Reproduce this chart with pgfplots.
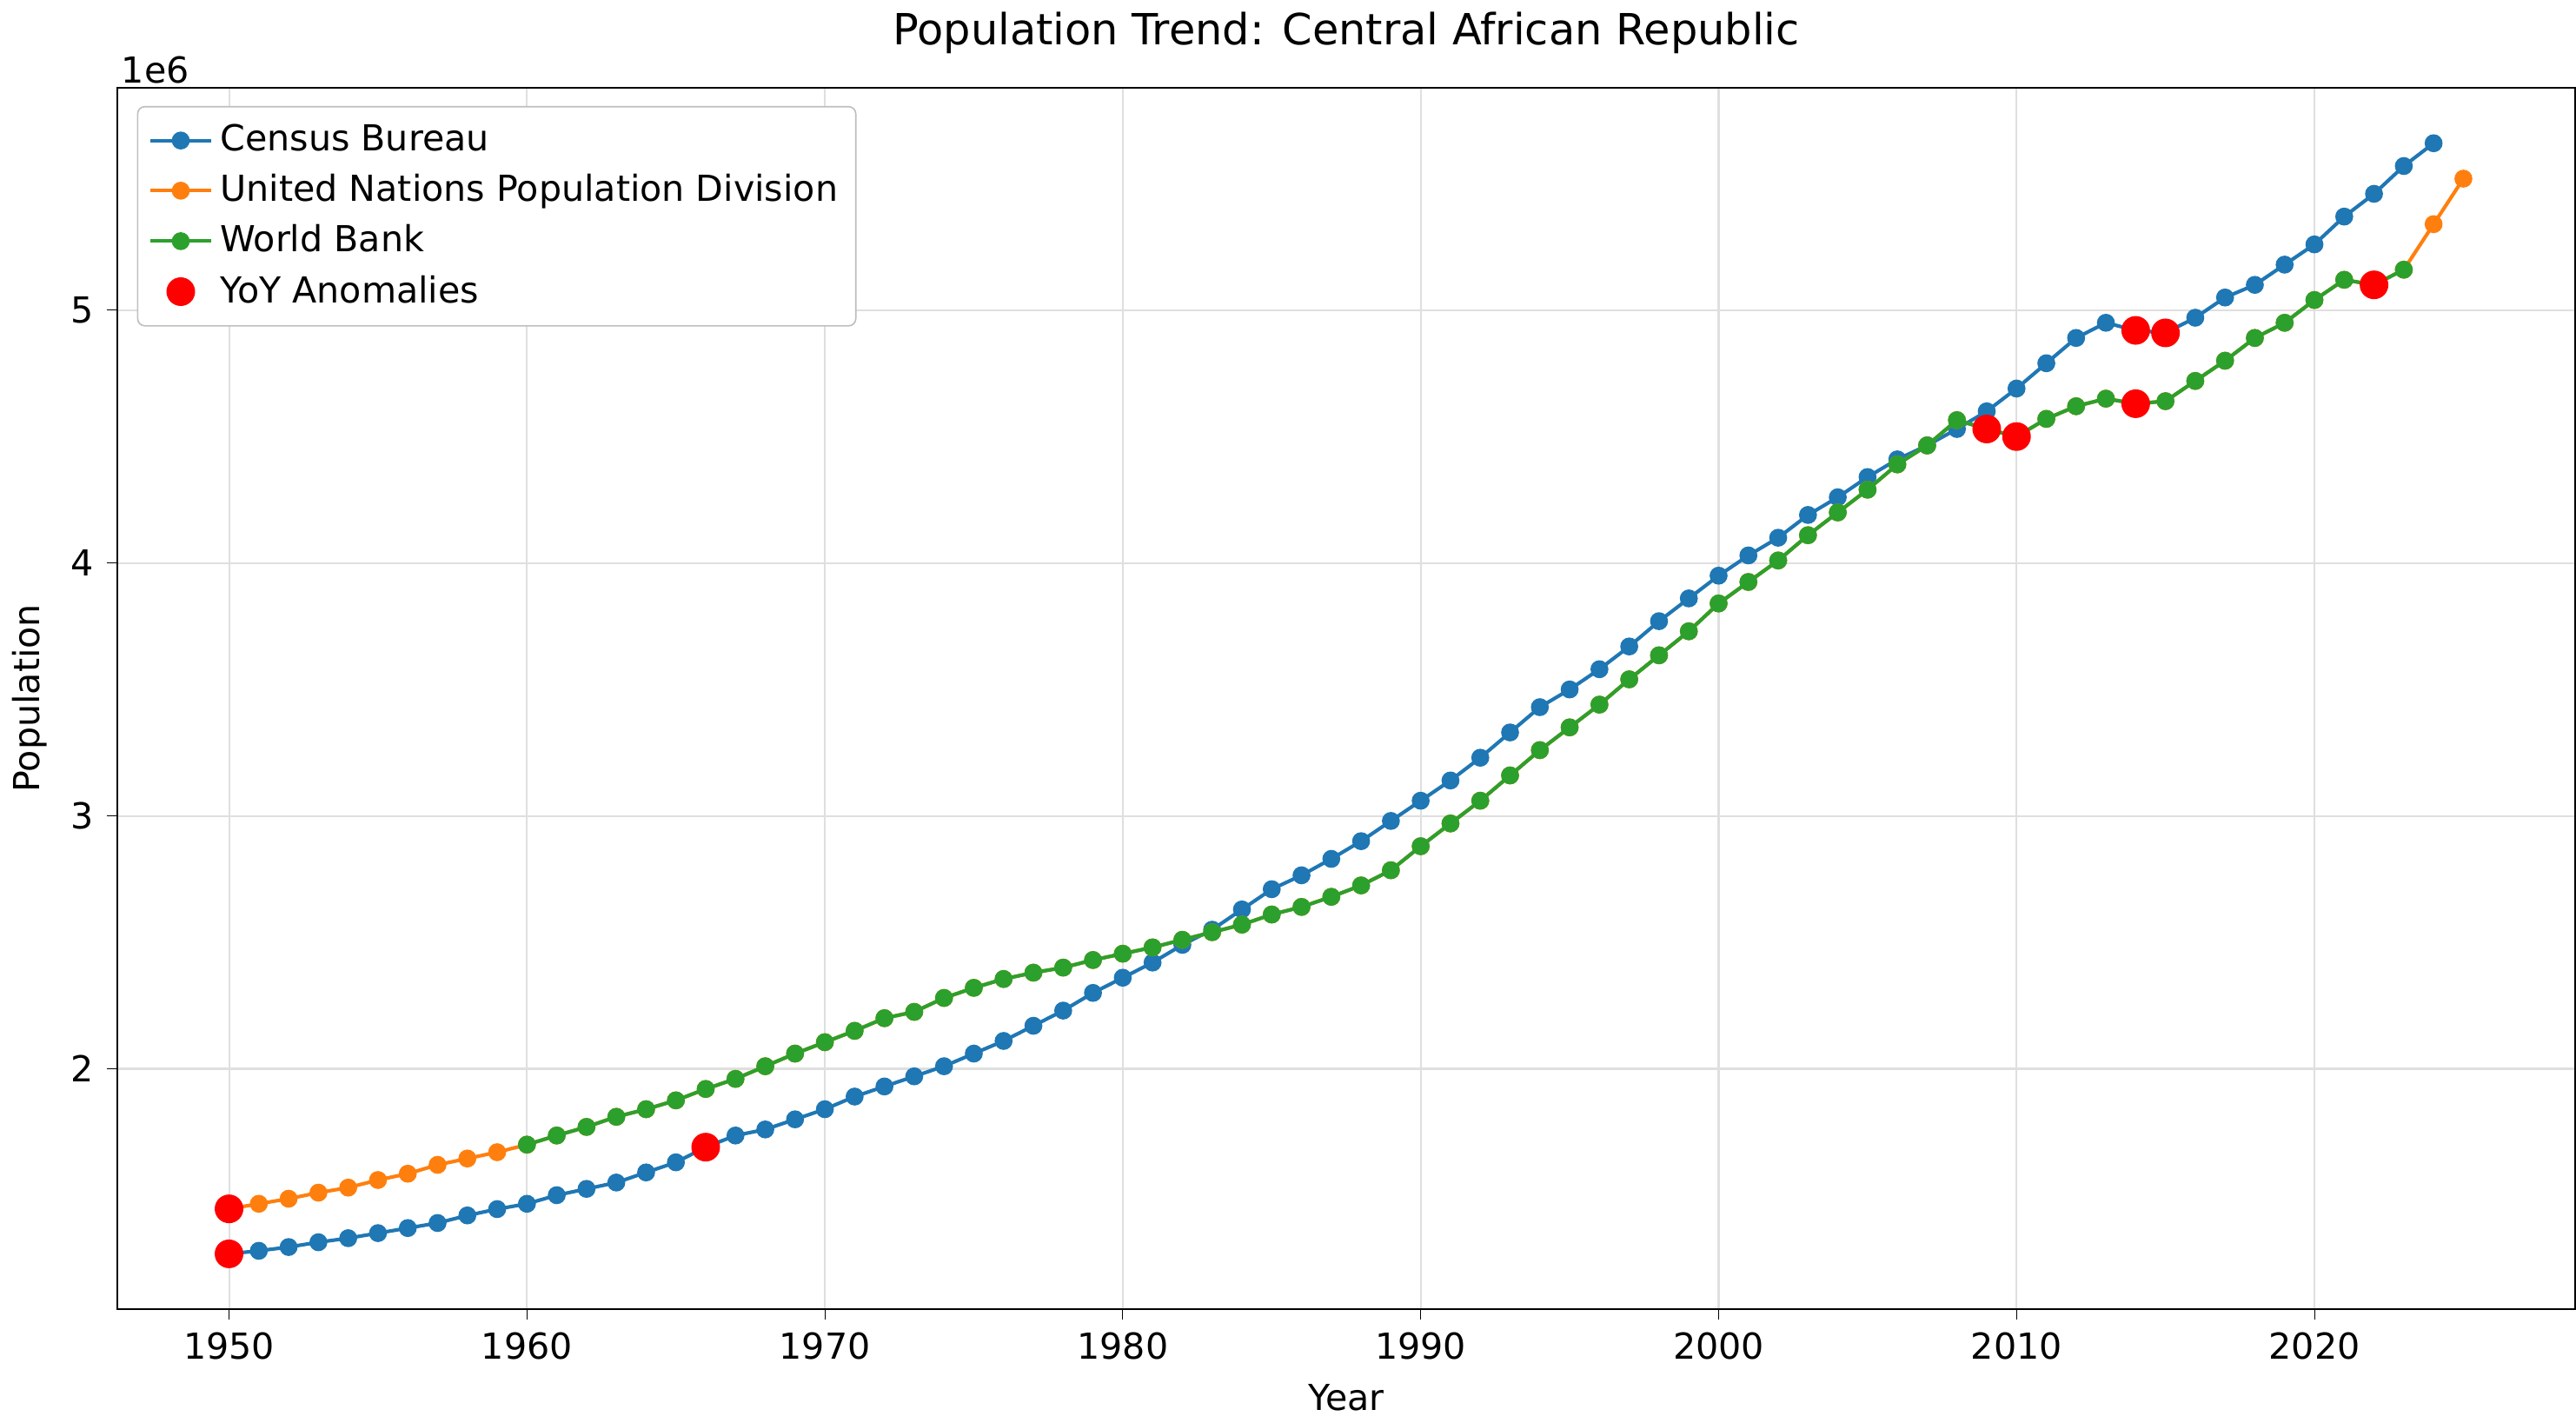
\documentclass[border=0pt]{standalone}
\usepackage{pgfplots}
\pgfplotsset{compat=1.18}
\usepackage{fontspec}
\setmainfont{DejaVu Sans}
\definecolor{cb}{HTML}{1F77B4}
\definecolor{un}{HTML}{FF7F0E}
\definecolor{wb}{HTML}{2CA02C}
\begin{document}
\begin{tikzpicture}
\begin{axis}[
  scale only axis, width=9.5in, height=4.72in,
  xmin=1946.25, xmax=2028.75, ymin=1.05, ymax=5.88,
  xtick={1950,1960,...,2020}, ytick={2,3,4,5},
  /pgf/number format/1000 sep={},
  /pgf/number format/assume math mode=true,
  grid=major, grid style={gray!25, line width=0.5pt},
  tick style={black}, tick align=outside, major tick length=3pt,
  xtick pos=bottom, ytick pos=left,
  xlabel={Year}, ylabel={Population},
  title={\fontsize{12}{14}\selectfont Population Trend: Central African Republic},
  every tick label/.append style={font=\fontsize{10}{12}\selectfont},
  label style={font=\fontsize{10}{12}\selectfont},
  legend style={at={(0.008,0.985)}, anchor=north west, font=\fontsize{10}{12}\selectfont, draw=gray!50, rounded corners=2pt, row sep=1pt, inner sep=3pt},
  legend cell align=left,
  clip mode=individual,
  every axis plot/.append style={line width=1pt, mark size=2pt},
]
\addplot[cb, mark=*, mark options={solid}] coordinates {
(1950,1.268)(1951,1.28)(1952,1.295)(1953,1.314)(1954,1.33)(1955,1.35)(1956,1.37)(1957,1.39)(1958,1.42)(1959,1.445)
(1960,1.466)(1961,1.50)(1962,1.525)(1963,1.55)(1964,1.59)(1965,1.63)(1966,1.69)(1967,1.736)(1968,1.76)(1969,1.80)
(1970,1.84)(1971,1.89)(1972,1.93)(1973,1.97)(1974,2.01)(1975,2.06)(1976,2.11)(1977,2.17)(1978,2.23)(1979,2.30)
(1980,2.36)(1981,2.42)(1982,2.49)(1983,2.55)(1984,2.63)(1985,2.71)(1986,2.765)(1987,2.83)(1988,2.90)(1989,2.98)
(1990,3.06)(1991,3.14)(1992,3.23)(1993,3.33)(1994,3.43)(1995,3.50)(1996,3.58)(1997,3.67)(1998,3.77)(1999,3.86)
(2000,3.95)(2001,4.03)(2002,4.10)(2003,4.19)(2004,4.26)(2005,4.34)(2006,4.41)(2007,4.465)(2008,4.53)(2009,4.60)
(2010,4.69)(2011,4.79)(2012,4.89)(2013,4.95)(2014,4.92)(2015,4.91)(2016,4.97)(2017,5.05)(2018,5.10)(2019,5.18)
(2020,5.26)(2021,5.37)(2022,5.46)(2023,5.57)(2024,5.66)};
\addlegendentry{Census Bureau}
\addplot[un, mark=*] coordinates {
(1950,1.446)(1951,1.466)(1952,1.486)(1953,1.51)(1954,1.53)(1955,1.56)(1956,1.585)(1957,1.62)(1958,1.645)(1959,1.67)
(1960,1.70)(1961,1.736)(1962,1.77)(1963,1.81)(1964,1.84)(1965,1.875)(1966,1.92)(1967,1.96)(1968,2.01)(1969,2.06)
(1970,2.105)(1971,2.15)(1972,2.20)(1973,2.225)(1974,2.28)(1975,2.32)(1976,2.355)(1977,2.38)(1978,2.40)(1979,2.43)
(1980,2.455)(1981,2.48)(1982,2.51)(1983,2.54)(1984,2.57)(1985,2.61)(1986,2.64)(1987,2.68)(1988,2.725)(1989,2.785)
(1990,2.88)(1991,2.97)(1992,3.06)(1993,3.16)(1994,3.26)(1995,3.35)(1996,3.44)(1997,3.54)(1998,3.635)(1999,3.73)
(2000,3.84)(2001,3.925)(2002,4.01)(2003,4.11)(2004,4.20)(2005,4.29)(2006,4.39)(2007,4.465)(2008,4.565)(2009,4.53)
(2010,4.50)(2011,4.57)(2012,4.62)(2013,4.65)(2014,4.63)(2015,4.64)(2016,4.72)(2017,4.80)(2018,4.89)(2019,4.95)
(2020,5.04)(2021,5.12)(2022,5.10)(2023,5.16)(2024,5.34)(2025,5.52)};
\addlegendentry{United Nations Population Division}
\addplot[wb, mark=*] coordinates {
(1960,1.70)(1961,1.736)(1962,1.77)(1963,1.81)(1964,1.84)(1965,1.875)(1966,1.92)(1967,1.96)(1968,2.01)(1969,2.06)
(1970,2.105)(1971,2.15)(1972,2.20)(1973,2.225)(1974,2.28)(1975,2.32)(1976,2.355)(1977,2.38)(1978,2.40)(1979,2.43)
(1980,2.455)(1981,2.48)(1982,2.51)(1983,2.54)(1984,2.57)(1985,2.61)(1986,2.64)(1987,2.68)(1988,2.725)(1989,2.785)
(1990,2.88)(1991,2.97)(1992,3.06)(1993,3.16)(1994,3.26)(1995,3.35)(1996,3.44)(1997,3.54)(1998,3.635)(1999,3.73)
(2000,3.84)(2001,3.925)(2002,4.01)(2003,4.11)(2004,4.20)(2005,4.29)(2006,4.39)(2007,4.465)(2008,4.565)(2009,4.53)
(2010,4.50)(2011,4.57)(2012,4.62)(2013,4.65)(2014,4.63)(2015,4.64)(2016,4.72)(2017,4.80)(2018,4.89)(2019,4.95)
(2020,5.04)(2021,5.12)(2022,5.10)(2023,5.16)};
\addlegendentry{World Bank}
\addplot[only marks, red, mark=*, mark size=3.5pt] coordinates {
(1950,1.446)(1950,1.268)(1966,1.69)(2009,4.53)(2010,4.50)(2014,4.92)(2015,4.91)(2014,4.63)(2022,5.10)};
\addlegendentry{YoY Anomalies}
\end{axis}
\node[anchor=south west, font=\fontsize{10}{12}\selectfont, inner sep=1pt] at (0,4.72in) {1e6};
\end{tikzpicture}
\end{document}
